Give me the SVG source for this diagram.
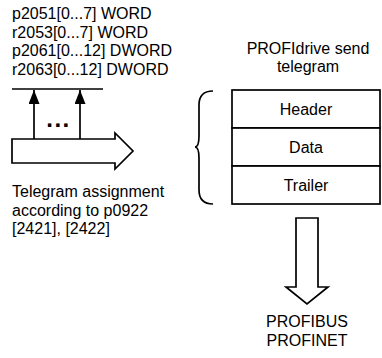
<svg xmlns="http://www.w3.org/2000/svg" width="382" height="358" viewBox="0 0 382 358">
<defs>
<style>
text{font-family:"Liberation Sans",Arial,sans-serif;font-size:16px;fill:#000}
.c{text-anchor:middle}
.ln{fill:none;stroke:#000;stroke-width:1.7}
.sh{fill:#fff;stroke:#000;stroke-width:1.7;stroke-linejoin:miter}
</style>
<marker id="ah" viewBox="0 0 14 11" refX="14" refY="5.5" markerWidth="14" markerHeight="11" markerUnits="userSpaceOnUse" orient="auto">
<path d="M0,0 L14,5.5 L0,11 Z" fill="#000"/>
</marker>
</defs>
<g id="params">
<text x="12" y="19">p2051[0...7] WORD</text>
<text x="12" y="37.5">r2053[0...7] WORD</text>
<text x="12" y="56">p2061[0...12] DWORD</text>
<text x="12" y="74.5">r2063[0...12] DWORD</text>
</g>
<g id="assignment">
<path class="sh" d="M12,139 H115 V133 L133,151 L115,169 V163 H12 Z"/>
<text x="12" y="197">Telegram assignment</text>
<text x="12" y="215.5">according to p0922</text>
<text x="12" y="234">[2421], [2422]</text>
</g>
<g id="connectors">
<line class="ln" x1="12" y1="89" x2="103" y2="89"/>
<line class="ln" x1="34" y1="139" x2="34" y2="90" marker-end="url(#ah)"/>
<line class="ln" x1="80" y1="139" x2="80" y2="90" marker-end="url(#ah)"/>
<text x="58.5" y="127" class="c" style="font-weight:bold;font-size:24px;letter-spacing:1.5px">...</text>
<path class="ln" d="M213,91 Q199,91 199,105 V136 Q199,147 195,147 Q199,147 199,158 V190 Q199,204 213,204"/>
</g>
<g id="telegram">
<text x="308" y="54" class="c">PROFIdrive send</text>
<text x="308" y="72" class="c">telegram</text>
<rect class="sh" x="232" y="90" width="148" height="38"/>
<text x="306" y="114.7" class="c">Header</text>
<rect class="sh" x="232" y="128" width="148" height="38"/>
<text x="306" y="152.7" class="c">Data</text>
<rect class="sh" x="232" y="166" width="148" height="38"/>
<text x="306" y="190.7" class="c">Trailer</text>
</g>
<g id="bus">
<path class="sh" d="M296,218 H318 V287 H328 L307,304 L286,287 H296 Z"/>
<text x="307" y="327" class="c">PROFIBUS</text>
<text x="307" y="345.5" class="c">PROFINET</text>
</g>
</svg>
